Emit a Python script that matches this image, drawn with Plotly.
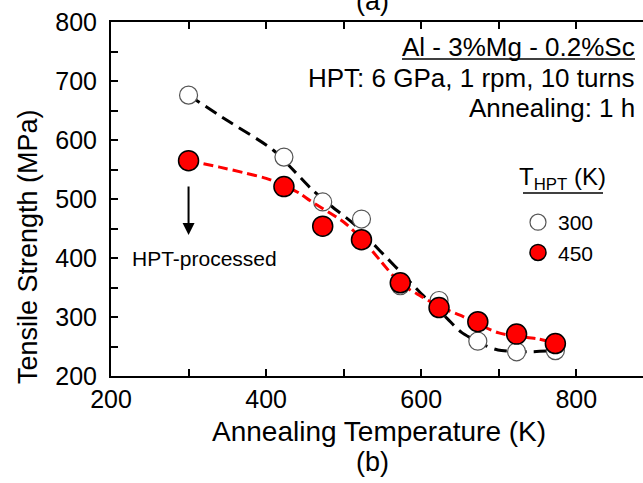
import plotly.graph_objects as go

# ---- data ----
temp = [300, 423, 473, 523, 573, 623, 673, 723, 773]
ts_300 = [676, 571, 495, 466, 353, 328, 259, 241, 243]
ts_450 = [565, 521, 454, 431, 358, 316, 292, 271, 255]

# dashed guide curves
fit300_x = [300, 350, 409, 460, 486, 512, 547, 586, 602, 633, 652, 682, 699, 734, 773]
fit300_y = [676, 633, 583, 515, 486, 459, 412, 359, 337, 298, 274, 252, 244, 241, 243]
fit450_x = [300, 340, 370, 400, 423, 444, 457, 500, 523, 547, 573, 600, 623, 650, 700, 750, 773]
fit450_y = [565, 554, 545, 535, 523, 509, 497, 461, 433, 396, 357, 335, 318, 303, 273, 263, 256]

x_tickvals = [200, 300, 400, 500, 600, 700, 800]
x_ticktext = ["200", "", "400", "", "600", "", "800"]
y_tickvals = [200, 250, 300, 350, 400, 450, 500, 550, 600, 650, 700, 750, 800]
y_ticktext = ["200", "", "300", "", "400", "", "500", "", "600", "", "700", "", "800"]

FONT = "Liberation Sans, Arial, sans-serif"
W, H = 643, 483
L, R, T, B = 111, 0, 22, 107

fig = go.Figure()
fig.add_trace(go.Scatter(x=fit300_x, y=fit300_y, mode="lines", showlegend=False,
                         line=dict(color="black", width=3, dash="13px,7px", shape="spline", smoothing=0.7),
                         hoverinfo="skip"))
fig.add_trace(go.Scatter(x=temp, y=ts_300, mode="markers", name="300",
                         marker=dict(size=18, color="white", line=dict(color="#555555", width=1.2))))
fig.add_trace(go.Scatter(x=fit450_x, y=fit450_y, mode="lines", showlegend=False,
                         line=dict(color="#ff0000", width=3, dash="10px,5px", shape="spline", smoothing=0.7),
                         hoverinfo="skip"))
fig.add_trace(go.Scatter(x=temp, y=ts_450, mode="markers", name="450",
                         marker=dict(size=20, color="#ff0000", line=dict(color="black", width=1.5))))

axis_common = dict(showline=True, linecolor="black", linewidth=2, ticks="inside",
                   ticklen=7, tickwidth=2, tickcolor="black", showgrid=False, zeroline=False,
                   tickfont=dict(family=FONT, size=25, color="black"))

fig.update_xaxes(range=[200, 886], tickmode="array", tickvals=x_tickvals, ticktext=x_ticktext,
                 mirror="ticks", ticklabelstandoff=0, **axis_common)
fig.update_yaxes(range=[200, 800], tickmode="array", tickvals=y_tickvals, ticktext=y_ticktext,
                 mirror=False, ticklabelstandoff=7, **axis_common)

def px_x(p):
    return (p - L) / (W - L - R)

def px_y(p):
    return (H - B - p) / (H - B - T)

def note(text, x, y, size, xanchor="center", angle=0):
    return dict(text=text, x=px_x(x), y=px_y(y), xref="paper", yref="paper",
                xanchor=xanchor, yanchor="middle", textangle=angle, showarrow=False,
                font=dict(family=FONT, size=size, color="black"))

ann = [
    note("Tensile Strength (MPa)", 28, 247, 27, angle=-90),
    note("Annealing Temperature (K)", 379, 431, 28),
    note("(b)", 372, 462, 27),
    note("(a)", 372, 1, 27),
    note("Al - 3%Mg - 0.2%Sc", 637, 47, 26, xanchor="right"),
    note("HPT: 6 GPa, 1 rpm, 10 turns", 637, 78, 26, xanchor="right"),
    note("Annealing: 1 h", 637, 108, 26, xanchor="right"),
    note("HPT-processed", 130, 258, 21, xanchor="left"),
    note("T<sub>HPT</sub> (K)", 517, 178, 24, xanchor="left"),
]
# arrow pointing down from the as-processed point
ann.append(dict(text="", x=300, y=200 + (H - B - 235) / (H - B - T) * 600, xref="x", yref="y",
                ax=0, ay=-50, showarrow=True, arrowhead=2, arrowsize=1.2, arrowwidth=2, arrowcolor="black"))

shapes = [
    dict(type="line", xref="paper", yref="paper", x0=px_x(402), x1=px_x(635), y0=px_y(59), y1=px_y(59),
         line=dict(color="black", width=1.5)),
    dict(type="line", xref="paper", yref="paper", x0=px_x(523), x1=px_x(603), y0=px_y(193), y1=px_y(193),
         line=dict(color="black", width=1.5)),
]

fig.update_layout(
    width=W, height=H, margin=dict(l=L, r=R, t=T, b=B),
    plot_bgcolor="white", paper_bgcolor="white",
    annotations=ann, shapes=shapes,
    legend=dict(x=px_x(518), y=px_y(202), xanchor="left", yanchor="top",
                font=dict(family=FONT, size=21, color="black"), bgcolor="rgba(0,0,0,0)",
                tracegroupgap=0, itemwidth=30),
)

fig.write_html("out.html")
